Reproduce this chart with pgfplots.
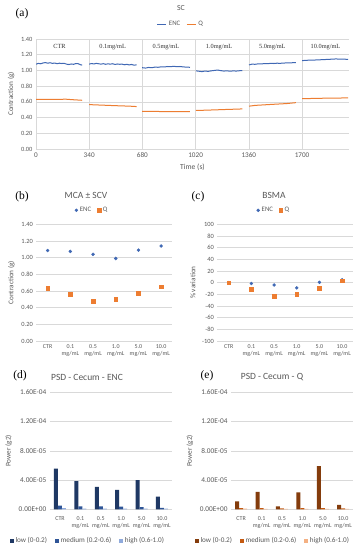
\documentclass[border=0pt]{standalone}
\usepackage{pgfplots}
\pgfplotsset{compat=1.18}
\usepackage{fontspec}
\setmainfont{Carlito}
\newfontfamily\tnr{Liberation Serif}
\definecolor{gridgray}{HTML}{D9D9D9}
\definecolor{labgray}{HTML}{595959}
\definecolor{encblue}{HTML}{4068B4}
\definecolor{qorange}{HTML}{ED7D31}
\definecolor{dlow}{HTML}{1F3864}
\definecolor{dmed}{HTML}{2F5597}
\definecolor{dhigh}{HTML}{8FAADC}
\definecolor{elow}{HTML}{843C0C}
\definecolor{emed}{HTML}{C55A11}
\definecolor{ehigh}{HTML}{F4B183}
\pgfplotsset{
  every axis/.append style={
    scale only axis,
    axis line style={draw=none},
    tick style={draw=none},
    major grid style={draw=gridgray, line width=0.5pt},
    ticklabel style={font=\fontsize{6.4}{7}\selectfont, text=labgray},
    label style={font=\fontsize{7.2}{8}\selectfont, text=labgray},
    /pgf/number format/assume math mode=true,
    legend style={draw=none, fill=none, font=\fontsize{6.8}{7.5}\selectfont, text=labgray,
      legend columns=-1, /tikz/every even column/.append style={column sep=4pt}},
  },
  catax/.style={
    xmin=-0.5, xmax=5.5, xtick={0,1,2,3,4,5},
    xticklabels={CTR, {0.1\\mg/mL}, {0.5\\mg/mL}, {1.0\\mg/mL}, {5.0\\mg/mL}, {10.0\\mg/mL}},
    xticklabel style={align=center, font=\fontsize{6}{6.6}\selectfont},
    ymajorgrids, xmajorgrids=false,
  },
  psd/.style={
    catax, ybar=0pt, bar width=4pt,
    ymin=0, ymax=1.6e-4, ytick={0,4e-5,8e-5,1.2e-4,1.6e-4}, scaled y ticks=false,
    yticklabels={0.00E+00,4.00E-05,8.00E-05,1.20E-04,1.60E-04},
    yticklabel style={font=\fontsize{7.3}{8}\selectfont},
    ylabel={Power (g2)},
    legend style={font=\fontsize{7.2}{8}\selectfont, /tikz/every even column/.append style={column sep=6pt}},
    legend image code/.code={\fill[##1] (0pt,-1.8pt) rectangle (3.6pt,1.8pt);},
  },
}
\pgfplotstableread{
x enc
0 1.080
15 1.090
30 1.085
45 1.095
60 1.100
75 1.092
90 1.098
105 1.090
120 1.094
135 1.086
150 1.092
165 1.088
180 1.090
195 1.080
210 1.075
225 1.082
240 1.078
255 1.088
270 1.085
285 1.072
295 1.068
318 nan
340 1.080
355 1.088
370 1.082
385 1.090
400 1.085
415 1.080
430 1.086
445 1.078
460 1.084
475 1.080
490 1.085
505 1.076
520 1.082
535 1.078
550 1.080
565 1.072
580 1.078
595 1.070
610 1.076
625 1.068
643 1.070
660 nan
678 1.035
700 1.030
720 1.038
740 1.035
760 1.042
780 1.040
800 1.046
820 1.044
840 1.050
860 1.048
880 1.052
900 1.048
920 1.050
940 1.045
960 1.042
984 1.040
1000 nan
1022 0.995
1040 0.990
1060 0.985
1080 0.992
1100 0.988
1120 0.995
1140 1.000
1160 1.005
1180 0.998
1200 0.992
1220 0.995
1240 0.990
1260 0.994
1280 0.992
1300 0.996
1318 0.998
1340 nan
1361 1.070
1380 1.080
1400 1.078
1420 1.084
1440 1.082
1460 1.088
1480 1.086
1500 1.090
1520 1.088
1540 1.092
1560 1.090
1580 1.094
1600 1.095
1620 1.096
1640 1.098
1661 1.100
1680 nan
1701 1.125
1720 1.128
1740 1.130
1760 1.132
1780 1.132
1800 1.135
1820 1.136
1840 1.138
1860 1.140
1880 1.142
1900 1.145
1920 1.146
1940 1.143
1960 1.145
1980 1.142
1995 1.140
}\encdata
\pgfplotstableread{
x q
0 0.630
50 0.633
100 0.632
150 0.632
190 0.634
230 0.628
295 0.620
318 nan
340 0.565
400 0.560
500 0.552
600 0.545
643 0.540
660 nan
678 0.480
750 0.478
850 0.476
984 0.475
1000 nan
1022 0.490
1100 0.495
1200 0.502
1318 0.510
1340 nan
1361 0.545
1400 0.555
1500 0.567
1600 0.578
1661 0.590
1680 nan
1701 0.640
1800 0.645
1900 0.648
1995 0.650
}\qdata
\begin{document}
\begin{tikzpicture}
\path[use as bounding box, fill=white] (0pt,0pt) rectangle (362pt,550pt);
% (a)
\begin{axis}[at={(36pt,401pt)}, anchor=south west, width=313pt, height=110pt,
  xmin=0, xmax=2000, ymin=0, ymax=1.4,
  xtick={0,340,680,1020,1360,1700}, ytick={0,0.2,...,1.41},
  xmajorgrids, ymajorgrids,
  xticklabel style={font=\fontsize{7.2}{8}\selectfont, /pgf/number format/.cd, set thousands separator={}},
  yticklabel style={/pgf/number format/.cd, fixed, fixed zerofill, precision=2},
  xlabel={Time (s)}, ylabel={Contraction (g)},
  xlabel style={font=\fontsize{7.6}{8}\selectfont},
  unbounded coords=jump,
  legend style={at={(0.463,1.136)}, anchor=center},
  legend image code/.code={\draw[#1] (0pt,0pt) -- (9pt,0pt);},
]
\addplot[encblue, line width=1pt] table[x=x, y=enc] {\encdata};
\addlegendentry{ENC}
\addplot[qorange, line width=1pt] table[x=x, y=q] {\qdata};
\addlegendentry{Q}
\node[font=\tnr\fontsize{6.3}{7}\selectfont, text=black!80] at (axis cs:150,1.3) {CTR};
\node[font=\tnr\fontsize{6.3}{7}\selectfont, text=black!80] at (axis cs:490,1.3) {0.1mg/mL};
\node[font=\tnr\fontsize{6.3}{7}\selectfont, text=black!80] at (axis cs:830,1.3) {0.5mg/mL};
\node[font=\tnr\fontsize{6.3}{7}\selectfont, text=black!80] at (axis cs:1170,1.3) {1.0mg/mL};
\node[font=\tnr\fontsize{6.3}{7}\selectfont, text=black!80] at (axis cs:1510,1.3) {5.0mg/mL};
\node[font=\tnr\fontsize{6.3}{7}\selectfont, text=black!80] at (axis cs:1850,1.3) {10.0mg/mL};
\end{axis}
% (b)
\begin{axis}[at={(36.3pt,209pt)}, anchor=south west, width=136.2pt, height=116.7pt, catax,
  ymin=0, ymax=1.4, ytick={0,0.2,...,1.41},
  yticklabel style={/pgf/number format/.cd, fixed, fixed zerofill, precision=2},
  ylabel={Contraction (g)},
  legend style={at={(0.41,1.12)}, anchor=center},
]
\addplot[only marks, mark=*, mark size=1.5pt, encblue] coordinates {(0,1.085) (1,1.075) (2,1.04) (3,0.99) (4,1.09) (5,1.14)};
\addlegendentry{ENC}
\addplot[only marks, mark=square*, mark size=1.8pt, qorange] coordinates {(0,0.63) (1,0.56) (2,0.48) (3,0.50) (4,0.57) (5,0.65)};
\addlegendentry{Q}
\end{axis}
% (c)
\begin{axis}[at={(217.4pt,209pt)}, anchor=south west, width=136pt, height=116.7pt, catax,
  ymin=-100, ymax=100, ytick={-100,-80,...,100},
  ylabel={\% variation},
  legend style={at={(0.416,1.12)}, anchor=center},
]
\addplot[only marks, mark=*, mark size=1.5pt, encblue] coordinates {(0,0) (1,-1.5) (2,-4) (3,-9) (4,0.5) (5,5)};
\addlegendentry{ENC}
\addplot[only marks, mark=square*, mark size=1.8pt, qorange] coordinates {(0,0) (1,-11.5) (2,-23.5) (3,-20) (4,-9) (5,3)};
\addlegendentry{Q}
\end{axis}
% (d)
\begin{axis}[at={(49.8pt,40.7pt)}, anchor=south west, width=122.4pt, height=117pt, psd,
  legend style={at={(0.312,-0.271)}, anchor=center},
]
\addplot[fill=dlow, draw=none] coordinates {(0,5.55e-5) (1,3.86e-5) (2,3.05e-5) (3,2.64e-5) (4,4.0e-5) (5,1.73e-5)};
\addlegendentry{low (0-0.2)}
\addplot[fill=dmed, draw=none] coordinates {(0,0.5e-5) (1,0.4e-5) (2,0.4e-5) (3,0.35e-5) (4,0.3e-5) (5,0.2e-5)};
\addlegendentry{medium (0.2-0.6)}
\addplot[fill=dhigh, draw=none] coordinates {(0,0.15e-5) (1,0.1e-5) (2,0.1e-5) (3,0.1e-5) (4,0.1e-5) (5,0.08e-5)};
\addlegendentry{high (0.6-1.0)}
\end{axis}
% (e)
\begin{axis}[at={(231pt,40.7pt)}, anchor=south west, width=122.4pt, height=117pt, psd,
  legend style={at={(0.343,-0.271)}, anchor=center},
]
\addplot[fill=elow, draw=none] coordinates {(0,1.09e-5) (1,2.4e-5) (2,0.4e-5) (3,2.32e-5) (4,5.9e-5) (5,0.6e-5)};
\addlegendentry{low (0-0.2)}
\addplot[fill=emed, draw=none] coordinates {(0,0.15e-5) (1,0.15e-5) (2,0.12e-5) (3,0.15e-5) (4,0.15e-5) (5,0.12e-5)};
\addlegendentry{medium (0.2-0.6)}
\addplot[fill=ehigh, draw=none] coordinates {(0,0.08e-5) (1,0.05e-5) (2,0.05e-5) (3,0.05e-5) (4,0.05e-5) (5,0.05e-5)};
\addlegendentry{high (0.6-1.0)}
\end{axis}
% titles and panel labels
\node[font=\fontsize{7.8}{9}\selectfont, text=labgray] at (181pt,542pt) {SC};
\node[font=\fontsize{9.5}{11}\selectfont, text=labgray] at (86pt,355pt) {MCA ± SCV};
\node[font=\fontsize{9.5}{11}\selectfont, text=labgray] at (274pt,355pt) {BSMA};
\node[font=\fontsize{9.5}{11}\selectfont, text=labgray] at (87pt,173pt) {PSD - Cecum - ENC};
\node[font=\fontsize{9.5}{11}\selectfont, text=labgray] at (272pt,173pt) {PSD - Cecum - Q};
\node[font=\tnr\fontsize{11.5}{13}\selectfont] at (22pt,536pt) {(a)};
\node[font=\tnr\fontsize{11.5}{13}\selectfont] at (22pt,353pt) {(b)};
\node[font=\tnr\fontsize{11.5}{13}\selectfont] at (198pt,353pt) {(c)};
\node[font=\tnr\fontsize{11.5}{13}\selectfont] at (20pt,174pt) {(d)};
\node[font=\tnr\fontsize{11.5}{13}\selectfont] at (207pt,174pt) {(e)};
\end{tikzpicture}
\end{document}
